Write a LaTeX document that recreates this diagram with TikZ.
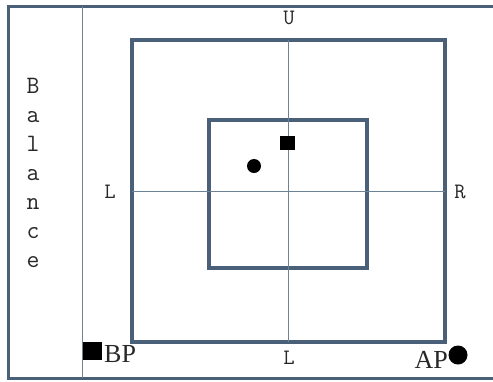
\documentclass[tikz,border=0pt]{standalone}
\usepackage{fontspec}
\newfontfamily\serif{Liberation Serif}
\definecolor{frame}{RGB}{74,96,120}
\definecolor{thin}{RGB}{110,130,150}
\definecolor{txt}{RGB}{40,40,40}
\begin{document}
\begin{tikzpicture}[x=1pt,y=-1pt,
  box/.style={draw=frame,line width=4.5pt,inner sep=0,outer sep=0},
  axis/.style={draw=thin,line width=1pt},
  lab/.style={text=txt,font=\ttfamily\fontsize{22}{24}\selectfont,inner sep=0},
  plab/.style={text=txt,font=\serif\fontsize{26}{28}\selectfont,inner sep=0},
  blot/.style={fill=black,inner sep=0}]
\useasboundingbox[fill=white] (0,0) rectangle (493,381);
% outer frame
\coordinate (ftr) at (494,6);
\coordinate (ftl) at (8,6);
\coordinate (fbl) at (8,378);
\coordinate (fbr) at (494,378);
\draw[frame,line width=3pt] (ftr) -- (ftl) -- (fbl) -- (fbr);
\coordinate (sept) at (82,6);
\coordinate (sepb) at (82,378);
\draw[axis] (sept) -- (sepb);
% squares
\node[box,minimum width=313pt,minimum height=302pt] (outer) at (288.5,191) {};
\node[box,minimum width=158pt,minimum height=148pt] (inner) at (288,194) {};
\draw[axis] (outer.north) -- (outer.south);
\draw[axis] (outer.west) -- (outer.east);
% labels
\node[lab] (u) at (289,18) {U};
\node[lab] (ll) at (110,192) {L};
\node[lab] (r) at (460,192) {R};
\node[lab] (lb) at (289,358) {L};
\node[lab,align=center,font=\ttfamily\fontsize{25}{29}\selectfont] (bal) at (33,173) {B\\a\\l\\a\\n\\c\\e};
% markers
\node[blot,minimum width=15pt,minimum height=14pt] (sq) at (287,142.5) {};
\node[blot,circle,minimum size=14pt] (dot) at (254,166) {};
\node[blot,minimum width=19pt,minimum height=18pt] (bpsq) at (92.5,351) {};
\node[plab,anchor=west] (bp) at (104,354) {BP};
\node[blot,circle,minimum size=19pt] (apdot) at (458,355) {};
\node[plab,anchor=east] (ap) at (448,360) {AP};
\end{tikzpicture}
\end{document}
